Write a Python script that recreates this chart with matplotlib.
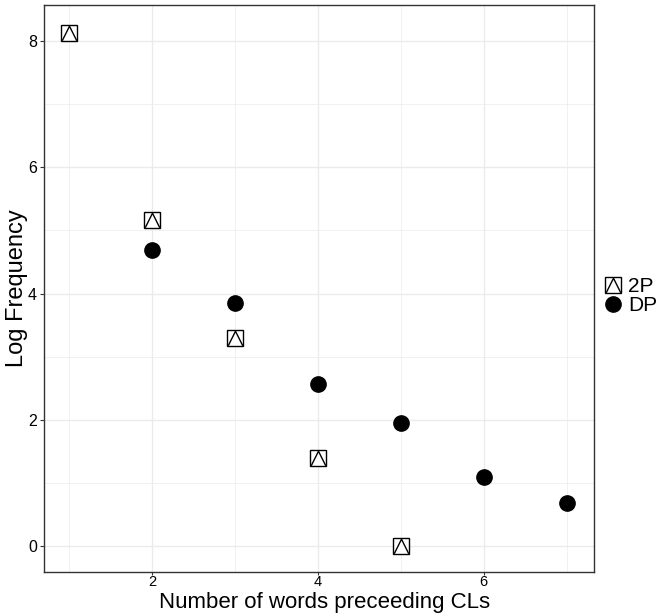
import numpy as np
import matplotlib
matplotlib.use("Agg")
import matplotlib.pyplot as plt
from matplotlib.lines import Line2D

plt.rcParams['font.family'] = ['Liberation Sans', 'DejaVu Sans']

# data: log frequency by number of words preceding CLs
x_2p = [1, 2, 3, 4, 5]
y_2p = [8.13, 5.16, 3.30, 1.39, 0.0]
x_dp = [2, 3, 4, 5, 6, 7]
y_dp = [4.69, 3.85, 2.56, 1.95, 1.10, 0.69]
xticks = [2, 4, 6]
yticks = [0, 2, 4, 6, 8]

fig = plt.figure(figsize=(6.59, 6.16), dpi=100)
ax = fig.add_axes([44 / 659, 1 - 572 / 616, 550 / 659, 567 / 616])

# grid (major + minor like ggplot theme_bw)
for v in [1, 2, 3, 4, 5, 6, 7]:
    ax.axvline(v, color='#ebebeb', lw=1.0 if v % 2 == 0 else 0.5, zorder=0)
for v in [0, 1, 2, 3, 4, 5, 6, 7, 8]:
    ax.axhline(v, color='#ebebeb', lw=1.0 if v % 2 == 0 else 0.5, zorder=0)

ms = 11
tri = [(-1, -1), (0, 1), (1, -1)]
# 2P: square with triangle inside
ax.plot(x_2p, y_2p, ls='none', marker='s', ms=ms, mfc='white', mec='black', mew=1.0, zorder=3)
ax.plot(x_2p, y_2p, ls='none', marker=tri, ms=ms * 0.95,
        mfc='none', mec='black', mew=1.0, zorder=4)
# DP: filled circle
ax.plot(x_dp, y_dp, ls='none', marker='o', ms=ms, mfc='black', mec='black', zorder=3)

ax.set_xlim(0.70, 7.33)
ax.set_ylim(-0.41, 8.57)
ax.set_xticks(xticks)
ax.set_yticks(yticks)
ax.tick_params(axis='both', labelsize=11.5, color='#333333', length=3, width=0.8, pad=2)
ax.tick_params(axis='x', labelsize=10.5, length=2.5, pad=0)
for s in ax.spines.values():
    s.set_color('#333333')
    s.set_linewidth(1.0)

ax.set_xlabel('Number of words preceeding CLs', fontsize=16)
ax.xaxis.set_label_coords(0.51, -20 / 567, transform=ax.transAxes)
ax.xaxis.label.set_va('top')
ax.set_ylabel('Log Frequency', fontsize=17, labelpad=0)

h2p = (Line2D([], [], ls='none', marker='s', ms=ms, mfc='white', mec='black', mew=1.0),
       Line2D([], [], ls='none', marker=tri, ms=ms * 0.95,
              mfc='none', mec='black', mew=1.0))
hdp = Line2D([], [], ls='none', marker='o', ms=ms, mfc='black', mec='black')
fig.legend([h2p, hdp], ['2P', 'DP'], loc='center left', bbox_to_anchor=(605 / 659, 1 - 296 / 616),
           frameon=False, fontsize=15, handlelength=0.8, handletextpad=0.3,
           labelspacing=0.0, borderaxespad=0, borderpad=0)

fig.savefig('out.png', dpi=100)
